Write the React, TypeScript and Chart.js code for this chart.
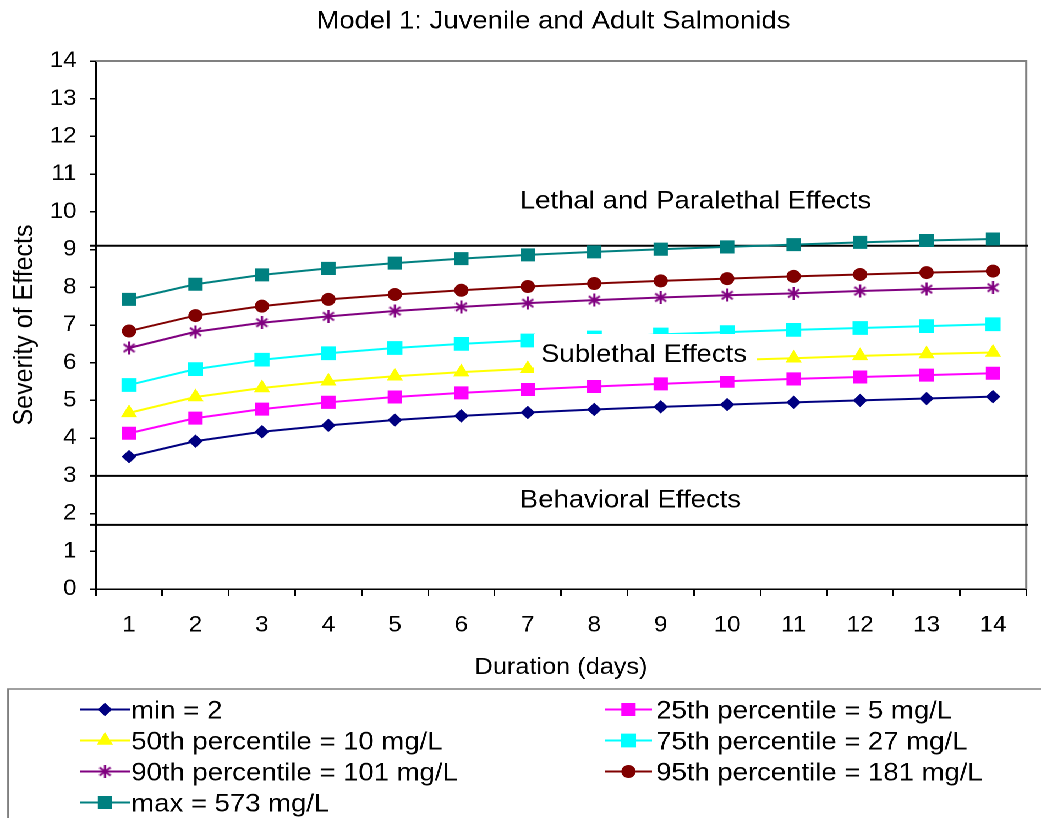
import React, { useEffect, useRef } from 'react';
import { Chart, registerables } from 'chart.js';

Chart.register(...registerables);

// ---- data ----
const durations = ['1', '2', '3', '4', '5', '6', '7', '8', '9', '10', '11', '12', '13', '14'];

const minValues = [3.51, 3.92, 4.17, 4.34, 4.48, 4.59, 4.68, 4.76, 4.83, 4.89, 4.95, 5.0, 5.05, 5.1];
const p25Values = [4.13, 4.53, 4.77, 4.95, 5.09, 5.2, 5.29, 5.37, 5.44, 5.51, 5.57, 5.62, 5.67, 5.72];
const p50Values = [4.67, 5.09, 5.33, 5.51, 5.64, 5.75, 5.84, 5.93, 6.0, 6.07, 6.12, 6.18, 6.23, 6.27];
const p75Values = [5.41, 5.83, 6.08, 6.25, 6.39, 6.5, 6.59, 6.67, 6.75, 6.81, 6.87, 6.92, 6.97, 7.02];
const p90Values = [6.39, 6.82, 7.06, 7.23, 7.37, 7.48, 7.58, 7.66, 7.73, 7.79, 7.84, 7.9, 7.95, 7.99];
const p95Values = [6.84, 7.25, 7.5, 7.68, 7.81, 7.92, 8.02, 8.1, 8.17, 8.23, 8.29, 8.34, 8.39, 8.43];
const maxValues = [7.68, 8.08, 8.33, 8.5, 8.64, 8.76, 8.86, 8.94, 9.01, 9.07, 9.13, 9.19, 9.24, 9.28];

const seriesLabels = [
  'min = 2',
  '25th percentile = 5 mg/L',
  '50th percentile = 10 mg/L',
  '75th percentile = 27 mg/L',
  '90th percentile = 101 mg/L',
  '95th percentile = 181 mg/L',
  'max = 573 mg/L',
];
const seriesValues = [minValues, p25Values, p50Values, p75Values, p90Values, p95Values, maxValues];

const severityMin = 0;
const severityMax = 14;
const severityStep = 1;

const zoneBoundaries = [9.1, 3, 1.7];
const zoneNames = ['Lethal and Paralethal Effects', 'Sublethal Effects', 'Behavioral Effects'];

const chartTitle = 'Model 1: Juvenile and Adult Salmonids';
const xTitle = 'Duration (days)';
const yTitle = 'Severity of Effects';

// ---- styles ----
const FONT = "'Liberation Sans', Arial, Helvetica, sans-serif";
const CW = 946;
const CH = 818;
const SX = 1041 / CW;

const seriesColors = ['#000080', '#FF00FF', '#FFFF00', '#00FFFF', '#800080', '#800000', '#008080'];
const markerRadii = [6, 8.5, 7.5, 9, 6, 6, 8.5];

function makeAsterisk(color: string): HTMLCanvasElement {
  const c = document.createElement('canvas');
  c.width = 12;
  c.height = 13;
  const g = c.getContext('2d')!;
  g.strokeStyle = color;
  g.lineWidth = 2;
  g.beginPath();
  g.moveTo(6, 0);
  g.lineTo(6, 13);
  g.moveTo(1, 2.5);
  g.lineTo(11, 10.5);
  g.moveTo(11, 2.5);
  g.lineTo(1, 10.5);
  g.stroke();
  return c;
}

function drawMarker(ctx: CanvasRenderingContext2D, style: any, x: number, y: number, r: number, color: string) {
  ctx.save();
  ctx.fillStyle = color;
  ctx.strokeStyle = color;
  ctx.lineWidth = 1;
  if (typeof style !== 'string') {
    ctx.drawImage(style, x - style.width / 2, y - style.height / 2, style.width, style.height);
    ctx.restore();
    return;
  }
  ctx.beginPath();
  if (style === 'rectRot') {
    ctx.moveTo(x - r, y);
    ctx.lineTo(x, y - r);
    ctx.lineTo(x + r, y);
    ctx.lineTo(x, y + r);
    ctx.closePath();
  } else if (style === 'rect') {
    const s = Math.SQRT1_2 * r;
    ctx.rect(x - s, y - s, 2 * s, 2 * s);
  } else if (style === 'triangle') {
    ctx.moveTo(x, y - r);
    ctx.lineTo(x + Math.sin((2 * Math.PI) / 3) * r, y + 0.5 * r);
    ctx.lineTo(x - Math.sin((2 * Math.PI) / 3) * r, y + 0.5 * r);
    ctx.closePath();
  } else {
    ctx.arc(x, y, r, 0, Math.PI * 2);
  }
  ctx.fill();
  ctx.stroke();
  ctx.restore();
}

const decorPlugin = {
  id: 'decor',
  beforeDatasetsDraw(chart: any) {
    const { ctx, chartArea: a, scales } = chart;
    const y = scales.y;
    ctx.save();
    // grey frame on the top and right of the plot area
    ctx.strokeStyle = '#808080';
    ctx.lineWidth = 2;
    ctx.beginPath();
    ctx.moveTo(a.left, a.top);
    ctx.lineTo(a.right, a.top);
    ctx.lineTo(a.right, a.bottom);
    ctx.stroke();
    // boundaries between effect zones
    ctx.strokeStyle = '#000';
    ctx.lineWidth = 2;
    zoneBoundaries.forEach((v) => {
      const py = y.getPixelForValue(v);
      ctx.beginPath();
      ctx.moveTo(a.left - 5.5, py);
      ctx.lineTo(a.right + 1.5, py);
      ctx.stroke();
    });
    ctx.restore();
  },
  afterDatasetsDraw(chart: any) {
    const { ctx } = chart;
    ctx.save();
    ctx.fillStyle = '#000';
    ctx.font = `25px ${FONT}`;
    ctx.textBaseline = 'alphabetic';
    // zone captions
    ctx.textAlign = 'left';
    ctx.fillText(zoneNames[0], 472.5, 208.5);
    ctx.fillStyle = '#fff';
    ctx.fillRect(485.3, 334, 202.7, 42);
    ctx.fillStyle = '#000';
    ctx.textAlign = 'center';
    ctx.fillText(zoneNames[1], 585.2, 362);
    ctx.textAlign = 'left';
    ctx.fillText(zoneNames[2], 472.4, 507.5);
    ctx.restore();
  },
  afterDraw(chart: any) {
    const { ctx, chartArea: a } = chart;
    ctx.save();
    ctx.fillStyle = '#000';
    ctx.textBaseline = 'alphabetic';

    // chart title
    ctx.font = `25px ${FONT}`;
    ctx.textAlign = 'center';
    ctx.fillText(chartTitle, 502.9, 28.3);

    // axis titles
    ctx.font = `23px ${FONT}`;
    ctx.fillText(xTitle, (a.left + a.right) / 2, 674);
    ctx.save();
    ctx.font = `25px ${FONT}`;
    ctx.translate(29.7, (a.top + a.bottom) / 2);
    ctx.rotate(-Math.PI / 2);
    ctx.fillText(yTitle, 0, 0);
    ctx.restore();

    // legend box
    ctx.strokeStyle = '#808080';
    ctx.lineWidth = 1.5;
    ctx.strokeRect(7.3, 689, CW + 20, CH);

    const rowY = [709.5, 740.5, 771.5, 802.5];
    const cols = [
      { x0: 72.7, x1: 118.1, tx: 119.3 },
      { x0: 549.8, x1: 592.5, tx: 596.3 },
    ];
    ctx.font = `25px ${FONT}`;
    ctx.textAlign = 'left';
    chart.data.datasets.forEach((ds: any, i: number) => {
      const col = cols[i % 2];
      const yy = rowY[Math.floor(i / 2)];
      ctx.strokeStyle = ds.borderColor;
      ctx.lineWidth = 2;
      ctx.beginPath();
      ctx.moveTo(col.x0, yy);
      ctx.lineTo(col.x1, yy);
      ctx.stroke();
      drawMarker(ctx, ds.pointStyle, (col.x0 + col.x1) / 2, yy, ds.pointRadius, ds.borderColor);
      ctx.fillStyle = '#000';
      ctx.fillText(ds.label, col.tx, yy + 9);
    });
    ctx.restore();
  },
};

export default function App() {
  const canvasRef = useRef<HTMLCanvasElement>(null);

  useEffect(() => {
    document.body.style.margin = '0';
    document.documentElement.style.overflow = 'hidden';
    const canvas = canvasRef.current;
    if (!canvas) return;

    const asterisk = makeAsterisk(seriesColors[4]);
    const markers: any[] = ['rectRot', 'rect', 'triangle', 'rect', asterisk, 'circle', 'rect'];

    const datasets = seriesValues.map((data, i) => ({
      label: seriesLabels[i],
      data,
      borderColor: seriesColors[i],
      backgroundColor: seriesColors[i],
      pointBackgroundColor: seriesColors[i],
      pointBorderColor: seriesColors[i],
      pointStyle: markers[i],
      pointRadius: markerRadii[i],
      pointHoverRadius: markerRadii[i],
      pointBorderWidth: 1,
      borderWidth: 2,
      tension: 0,
      fill: false,
    }));

    const chart = new Chart(canvas, {
      type: 'line',
      data: { labels: durations, datasets },
      options: {
        animation: false,
        responsive: true,
        maintainAspectRatio: false,
        devicePixelRatio: 2,
        layout: { padding: { top: 61, left: 0, right: 13.4, bottom: 169 } },
        plugins: {
          legend: { display: false },
          title: { display: false },
          tooltip: { enabled: false },
        },
        scales: {
          x: {
            type: 'category',
            offset: true,
            ticks: {
              color: '#000',
              font: { family: FONT, size: 22 },
              padding: 16,
              maxRotation: 0,
              autoSkip: false,
            },
            grid: {
              offset: true,
              drawOnChartArea: false,
              drawTicks: true,
              tickLength: 7,
              color: '#000',
              lineWidth: 1.5,
            },
            border: { color: '#000', width: 1.5 },
            afterFit: (s: any) => {
              s.height = 60;
            },
          },
          y: {
            min: severityMin,
            max: severityMax,
            ticks: {
              stepSize: severityStep,
              color: '#000',
              font: { family: FONT, size: 22 },
              padding: 12,
            },
            grid: {
              drawOnChartArea: false,
              drawTicks: true,
              tickLength: 5.5,
              color: '#000',
              lineWidth: 1.5,
            },
            border: { color: '#000', width: 1.5 },
            afterFit: (s: any) => {
              s.width = 87.06;
            },
          },
        },
      },
      plugins: [decorPlugin],
    });

    return () => chart.destroy();
  }, []);

  return (
    <div
      style={{
        position: 'absolute',
        left: 0,
        top: 0,
        width: CW,
        height: CH,
        background: '#fff',
        transform: `scaleX(${SX})`,
        transformOrigin: '0 0',
      }}
    >
      <canvas ref={canvasRef} />
    </div>
  );
}
